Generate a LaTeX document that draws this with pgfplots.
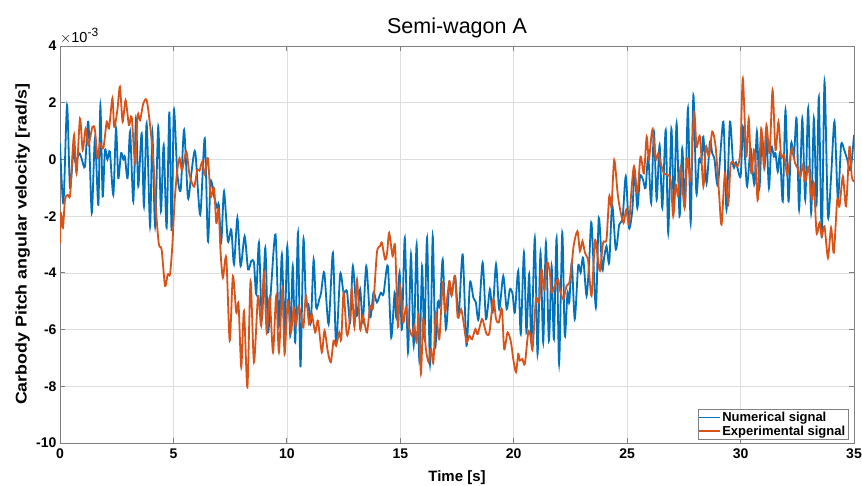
\documentclass[border=0pt]{standalone}
\usepackage{fontspec}
\setmainfont{Liberation Sans}
\usepackage{pgfplots}
\pgfplotsset{compat=1.18}
\definecolor{mblue}{RGB}{0,114,189}
\definecolor{morange}{RGB}{217,83,25}
\pgfplotstableread{
t v
0 0.57
0.15 -1.54
0.31 1.91
0.44 -1.01
0.59 0.33
0.69 -0.13
0.84 0.22
0.95 0.04
1.10 -0.25
1.25 1.33
1.40 -1.89
1.54 0.74
1.69 -1.6
1.78 1.91
1.88 -1.3
1.98 0.33
2.09 0
2.2 0.27
2.35 -1.25
2.47 1.09
2.57 -0.66
2.69 0.22
2.79 0
2.86 0.1
2.98 -0.66
3.09 0.98
3.23 -1.48
3.35 1.44
3.45 -0.95
3.6 0.92
3.7 -1.65
3.82 1.27
3.97 -2.36
4.07 0.98
4.19 -2.36
4.33 1.15
4.45 -1.83
4.57 0.51
4.7 -2.41
4.82 1.68
4.92 -2.53
5.02 1.74
5.17 -0.49
5.32 -1.07
5.47 1.04
5.64 -1.36
5.79 -0.49
5.96 0.27
6.18 -1.95
6.38 0.74
6.52 -2.88
6.64 -0.78
6.79 -1.3
6.93 -1.71
7.0 -1.6
7.11 -2.88
7.23 -1.13
7.4 -2.88
7.55 -2.47
7.67 -3.7
7.82 -2.06
7.96 -3.76
8.14 -2.71
8.29 -3.88
8.43 -3.58
8.55 -3.65
8.65 -4.75
8.77 -2.94
8.9 -5.63
9.05 -3.12
9.17 -6.1
9.31 -4.46
9.5 -2.65
9.65 -5.87
9.78 -3.35
9.9 -6.1
10.02 -3.06
10.15 -6.22
10.26 -3.76
10.37 -6.45
10.49 -2.59
10.6 -7.33
10.73 -2.82
10.84 -5.04
10.95 -5.1
11.06 -5.75
11.18 -3.53
11.29 -5.22
11.43 -4.93
11.51 -4.7
11.65 -3.99
11.84 -5.81
12.03 -3.29
12.17 -6.51
12.35 -4.05
12.5 -4.7
12.65 -4.65
12.79 -5.75
12.91 -3.76
13.09 -5.51
13.23 -4.58
13.35 -5.75
13.5 -3.76
13.67 -5.57
13.82 -4.7
13.97 -5.04
14.14 -4.7
14.26 -4.75
14.45 -3.76
14.6 -6.28
14.75 -4.7
14.83 -5.6
14.97 -3.99
15.07 -6.0
15.2 -2.77
15.34 -6.8
15.47 -3.35
15.59 -6.57
15.72 -3.0
15.84 -7.09
15.96 -3.76
16.06 -6.34
16.18 -2.77
16.31 -7.21
16.43 -2.71
16.54 -6.57
16.65 -5.04
16.75 -5.16
16.87 -3.53
17.01 -5.98
17.16 -4.46
17.28 -4.7
17.42 -4.11
17.57 -5.51
17.75 -3.35
17.92 -6.57
18.07 -4.35
18.22 -4.87
18.33 -5.04
18.45 -5.63
18.63 -3.64
18.78 -5.63
18.95 -4.58
19.07 -5.4
19.22 -3.7
19.36 -5.28
19.54 -4.11
19.69 -5.28
19.83 -4.58
19.95 -4.75
20.05 -5.4
20.2 -3.93
20.31 -6.16
20.45 -3.29
20.56 -6.1
20.68 -4.05
20.78 -6.45
20.93 -2.77
21.05 -6.86
21.18 -3.29
21.3 -6.45
21.42 -2.94
21.55 -6.39
21.67 -3.76
21.77 -6.34
21.89 -2.77
22.0 -7.21
22.14 -2.59
22.25 -6.22
22.37 -4.7
22.45 -5.04
22.56 -3.64
22.69 -5.63
22.84 -3.76
22.95 -3.99
23.06 -3.47
23.21 -4.81
23.33 -3.53
23.43 -2.24
23.62 -5.22
23.75 -2.06
23.9 -3.88
23.98 -3.5
24.09 -3.06
24.21 -3.64
24.34 -1.6
24.5 -3.18
24.65 -2.3
24.8 -2.06
24.94 -0.6
25.08 -2.41
25.23 -1.77
25.33 -0.37
25.45 -1.71
25.57 -0.6
25.7 -0.72
25.81 -1.01
25.93 0.1
26.06 -1.54
26.18 0.98
26.3 -1.42
26.43 0.51
26.55 -1.71
26.7 1.04
26.81 -2.59
26.95 1.09
27.06 -1.71
27.18 1.27
27.31 -2.0
27.43 0.39
27.55 -1.65
27.68 1.8
27.8 -2.24
27.92 2.26
28.05 -1.19
28.17 0
28.27 -0.1
28.36 0.8
28.5 -0.84
28.65 0.63
28.75 0.22
28.85 0
29.0 -0.9
29.24 1.33
29.38 -1.77
29.53 1.33
29.68 -0.25
29.8 -0.1
30.0 -0.6
30.1 1.15
30.2 0
30.29 -0.95
30.44 0.39
30.54 -0.49
30.62 -0.84
30.72 0.98
30.83 -1.01
30.94 0.86
31.06 -0.25
31.13 1.04
31.25 -1.01
31.35 0.45
31.47 0.1
31.54 0.22
31.64 -0.43
31.74 0.22
31.86 -1.48
31.98 1.74
32.11 -1.48
32.23 0.57
32.35 0.1
32.47 1.44
32.58 -1.77
32.72 1.44
32.85 -1.42
32.98 1.8
33.11 -1.89
33.23 1.44
33.35 -1.54
33.45 2.2
33.58 -2.77
33.7 2.73
33.85 -2.0
33.99 -0.6
34.14 1.33
34.29 -1.42
34.43 0.51
34.57 0.33
34.7 0
34.85 -0.37
35.0 0.86
}\numerical
\pgfplotstableread{
t v
0 -2.94
0.04 -1.89
0.13 -2.41
0.22 -1.42
0.34 -1.25
0.44 -1.3
0.51 -0.37
0.62 0.86
0.73 -0.49
0.88 1.44
1.0 0.33
1.13 1.09
1.25 0.51
1.43 1.15
1.54 1.04
1.66 0.04
1.76 0.57
1.91 0.39
2.06 1.33
2.16 1.09
2.31 2.15
2.39 1.15
2.53 1.74
2.64 2.56
2.76 1.33
2.89 2.09
3.04 1.21
3.16 1.5
3.31 -0.13
3.42 1.56
3.53 1.39
3.67 1.97
3.82 2.09
3.97 1.21
4.11 0
4.23 -1.77
4.36 -3.0
4.48 -3.18
4.63 -4.46
4.75 -4.05
4.85 -4.05
4.95 -3.06
5.05 -1.5
5.17 -0.37
5.27 0.04
5.38 -0.37
5.57 0.27
5.71 -0.54
5.91 -0.96
6.05 -0.37
6.15 -0.4
6.27 -0.08
6.38 -0.54
6.52 0.04
6.64 -1.3
6.79 -1.01
6.89 -2.24
6.99 -1.77
7.08 -3.29
7.18 -4.17
7.33 -3.47
7.48 -6.39
7.62 -4.11
7.77 -5.4
7.87 -5.1
7.99 -7.33
8.11 -5.34
8.26 -8.03
8.4 -4.29
8.55 -7.15
8.73 -4.81
8.87 -5.87
8.99 -3.99
9.11 -6.1
9.24 -4.87
9.39 -6.8
9.53 -4.81
9.65 -6.8
9.8 -4.58
9.9 -6.86
10.04 -4.99
10.18 -6.1
10.3 -5.22
10.4 -5.87
10.51 -5.16
10.62 -5.5
10.73 -5.92
10.84 -4.81
10.98 -5.81
11.1 -5.46
11.25 -6.1
11.37 -5.69
11.54 -6.8
11.66 -6.04
11.81 -6.8
11.94 -7.15
12.06 -6.39
12.17 -6.57
12.31 -6.1
12.4 -6.34
12.5 -4.7
12.64 -6.16
12.75 -5.87
12.86 -4.58
12.98 -5.92
13.09 -4.23
13.23 -5.98
13.35 -5.51
13.53 -6.1
13.67 -5.16
13.8 -5.22
13.97 -3.29
14.11 -3.06
14.19 -2.94
14.33 -3.53
14.42 -3.29
14.51 -2.59
14.66 -3.41
14.77 -3.06
14.9 -5.9
14.99 -4.46
15.13 -5.75
15.25 -5.22
15.37 -5.87
15.52 -6.22
15.62 -5.87
15.72 -6.45
15.81 -5.46
15.91 -7.56
16.01 -5.63
16.13 -6.69
16.25 -7.15
16.36 -6.69
16.46 -7.15
16.57 -5.4
16.72 -6.34
16.87 -4.35
16.98 -5.4
17.16 -4.29
17.26 -4.81
17.41 -4.11
17.53 -5.57
17.68 -5.28
17.79 -5.75
17.92 -6.45
18.04 -6.22
18.16 -6.34
18.31 -5.98
18.41 -6.16
18.6 -5.63
18.7 -5.87
18.81 -6.16
18.93 -6.1
19.1 -4.93
19.22 -5.63
19.34 -5.75
19.48 -5.28
19.58 -6.69
19.73 -6.1
19.88 -6.45
19.98 -7.04
20.1 -7.5
20.2 -6.86
20.27 -7.09
20.38 -7.04
20.49 -7.21
20.64 -6.1
20.74 -6.22
20.83 -6.69
20.98 -4.93
21.12 -5.04
21.23 -3.88
21.34 -4.58
21.48 -3.64
21.59 -3.99
21.67 -4.7
21.81 -4.46
21.96 -4.23
22.03 -4.58
22.18 -4.93
22.33 -4.46
22.45 -4.35
22.55 -3.76
22.65 -3.0
22.81 -2.53
22.92 -3.24
23.03 -2.88
23.14 -3.29
23.28 -3.58
23.43 -4.81
23.58 -2.88
23.68 -3.29
23.8 -3.93
23.94 -2.94
24.09 -2.82
24.21 -1.3
24.31 -1.65
24.43 -0.02
24.58 -1.19
24.69 -1.77
24.84 -2.24
24.96 -1.77
25.08 -2.3
25.18 -1.19
25.3 -0.25
25.45 -1.19
25.59 0.1
25.74 -0.49
25.86 0.8
25.96 0
26.11 1.04
26.26 0
26.37 0.22
26.48 -0.13
26.62 -0.49
26.77 -0.54
26.92 -0.72
27.03 -2.0
27.14 -0.9
27.25 -1.3
27.36 -0.25
27.53 -1.71
27.65 0.04
27.8 -0.72
27.95 1.68
28.06 0.45
28.21 0.8
28.36 -0.95
28.47 0.45
28.61 0.1
28.75 0.98
28.9 0.45
29.05 -1.19
29.16 -2.3
29.31 -0.49
29.46 -1.54
29.56 -0.19
29.7 -0.13
29.83 -0.25
29.92 -0.13
30.0 0.45
30.1 2.85
30.25 0.1
30.36 1.44
30.47 -0.49
30.59 0.33
30.68 -0.37
30.76 -1.42
30.91 1.09
31.03 -0.25
31.14 1.21
31.28 0.22
31.41 2.44
31.54 0.33
31.67 1.33
31.79 0.1
31.92 0.16
32.05 -0.54
32.15 -0.13
32.27 0.39
32.4 -0.13
32.52 -0.31
32.64 -0.6
32.75 -0.19
32.86 -0.78
33.0 -0.25
33.14 -1.42
33.23 -0.82
33.35 -2.59
33.48 -2.24
33.58 -2.71
33.7 -2.36
33.85 -3.47
33.99 -2.41
34.11 -3.29
34.26 -1.42
34.36 -1.65
34.51 -0.6
34.65 -1.65
34.8 0.45
34.9 -0.6
35.0 -0.78
}\experimental
\begin{document}
\begin{tikzpicture}
\useasboundingbox (-60pt,-43pt) rectangle (802pt,443pt);
\begin{axis}[
  scale only axis, width=794pt, height=397pt,
  xmin=0, xmax=35, ymin=-10, ymax=4,
  xtick={0,5,...,35}, ytick={-10,-8,...,4},
  clip mode=individual,
  grid=major,
  major grid style={color=black!13, line width=0.6pt},
  axis line style={color=black!50, line width=0.8pt},
  tick style={color=black!50, line width=0.8pt},
  major tick length=5pt,
  tick align=inside,
  /pgf/number format/assume math mode=true,
  ticklabel style={font=\fontsize{14}{14}\selectfont\bfseries},
  xticklabel style={yshift=-2pt},
  xlabel={Time [s]},
  ylabel={\scalebox{1.15}[1]{Carbody Pitch angular velocity [rad/s]}},
  every axis x label/.style={at={(axis description cs:0.5,-0.088)}, anchor=center, font=\fontsize{15}{16}\selectfont\bfseries},
  every axis y label/.style={at={(axis description cs:-0.047,0.5)}, anchor=center, rotate=90, font=\fontsize{15.5}{16}\selectfont\bfseries},
  title={Semi-wagon A},
  every axis title/.style={at={(axis description cs:0.5,1.046)}, anchor=center, font=\fontsize{21.5}{22}\selectfont},
  legend style={at={(axis description cs:0.993,0.008)}, anchor=south east,
    font=\fontsize{13}{14}\selectfont\bfseries, draw=black!50, line width=0.6pt,
    inner sep=1pt, row sep=-1.5pt},
  legend cell align=left,
  legend image code/.code={\fill[#1] (0pt,-0.5pt) rectangle (21pt,1.1pt);},
]
\addplot[color=mblue, line width=1.8pt, smooth, tension=0.45, forget plot] table[x=t, y=v] {\numerical};
\addplot[color=morange, line width=1.8pt, smooth, tension=0.45, forget plot] table[x=t, y=v] {\experimental};
\addlegendimage{fill=mblue, draw=none}
\addlegendentry{Numerical signal}
\addlegendimage{fill=morange, draw=none}
\addlegendentry{Experimental signal}
\node[anchor=south west, inner sep=0pt, font=\fontsize{14.5}{14}\selectfont] at (axis description cs:0.0,1.006) {$\times$10\raisebox{0.42em}{\fontsize{12}{12}\selectfont -3}};
\end{axis}
\end{tikzpicture}
\end{document}
